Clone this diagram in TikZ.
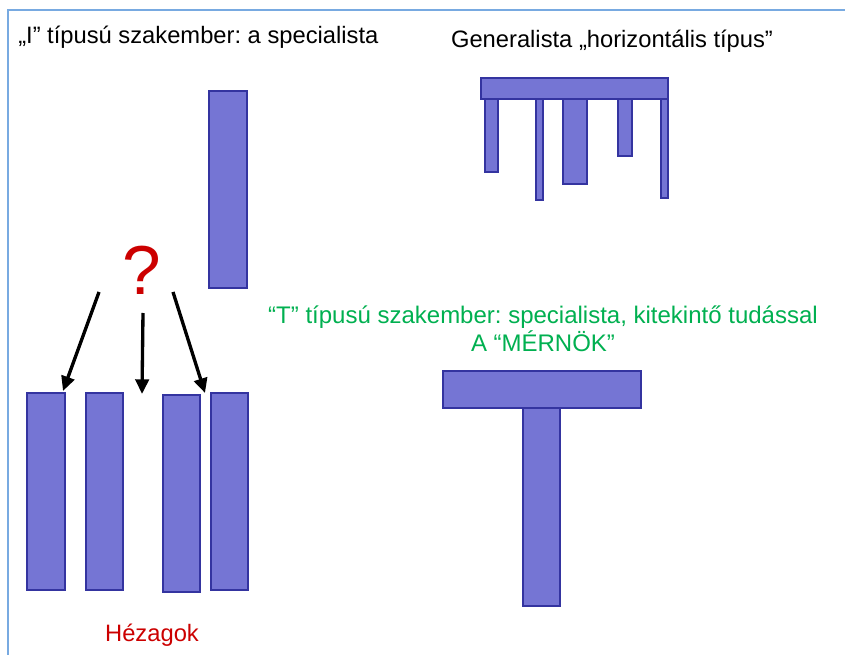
\documentclass[tikz,border=0pt]{standalone}
\usepackage{fontspec}
\setmainfont{Liberation Sans}
\usetikzlibrary{arrows.meta,fit}
\definecolor{barfill}{RGB}{117,117,212}
\definecolor{barline}{RGB}{52,52,160}
\definecolor{frameblue}{RGB}{120,170,225}
\definecolor{tgreen}{RGB}{0,176,80}
\definecolor{qred}{RGB}{204,0,0}
\frenchspacing
\begin{document}
\begin{tikzpicture}[x=0.75pt,y=-0.75pt,
  bar/.style={draw=barline,fill=barfill,line width=1.5pt,inner sep=0pt},
  lbl/.style={inner sep=0pt,font=\fontsize{17.8}{21}\selectfont},
  arr/.style={line width=2.5pt,-{Triangle[length=11pt,width=10pt]}}]
\useasboundingbox (0,0) rectangle (845,655);
\fill[white] (0,0) rectangle (845,655);
\draw[frameblue,line width=1.5pt] (8,655) -- (8,10) -- (845,10);
% texts
\node[lbl,anchor=base west] (t1) at (18,44) {„I” típusú szakember: a specialista};
\node[lbl,anchor=base] (t2) at (612,48) {Generalista „horizontális típus”};
\node[lbl,text=tgreen,align=center,anchor=base,font=\fontsize{18}{21}\selectfont] (t3) at (543,352) {“T” típusú szakember: specialista, kitekintő tudással\\A “MÉRNÖK”};
\node[lbl,text=qred,anchor=base] (hez) at (152,641) {Hézagok};
\node[inner sep=0pt,text=qred,font=\fontsize{52}{52}\selectfont] (q) at (142,270) {?};
% I specialist
\node[bar,fit={(209,91) (247,288)}] (ibar) {};
% generalist
\node[bar,fit={(485,99) (498,172)}] (g1) {};
\node[bar,fit={(536,99) (543,200)}] (g2) {};
\node[bar,fit={(563,99) (587,184)}] (g3) {};
\node[bar,fit={(618,99) (632,156)}] (g4) {};
\node[bar,fit={(661,99) (668,198)}] (g5) {};
\node[bar,fit={(481,78) (668,99)}] (gtop) {};
% gaps
\node[bar,fit={(27,393) (65,590)}] (b1) {};
\node[bar,fit={(86,393) (123,590)}] (b2) {};
\node[bar,fit={(163,395) (200,592)}] (b3) {};
\node[bar,fit={(211,393) (248,590)}] (b4) {};
% T
\node[bar,fit={(523,407) (560,606)}] (tstem) {};
\node[bar,fit={(443,371) (641,408)}] (ttop) {};
% arrows
\coordinate (a1s) at (99,292);
\coordinate (a1e) at (63,391);
\coordinate (a2s) at (143,313);
\coordinate (a2e) at (142,394);
\coordinate (a3s) at (173,292);
\coordinate (a3e) at (205,393);
\draw[arr] (a1s) -- (a1e);
\draw[arr] (a2s) -- (a2e);
\draw[arr] (a3s) -- (a3e);
\end{tikzpicture}
\end{document}
